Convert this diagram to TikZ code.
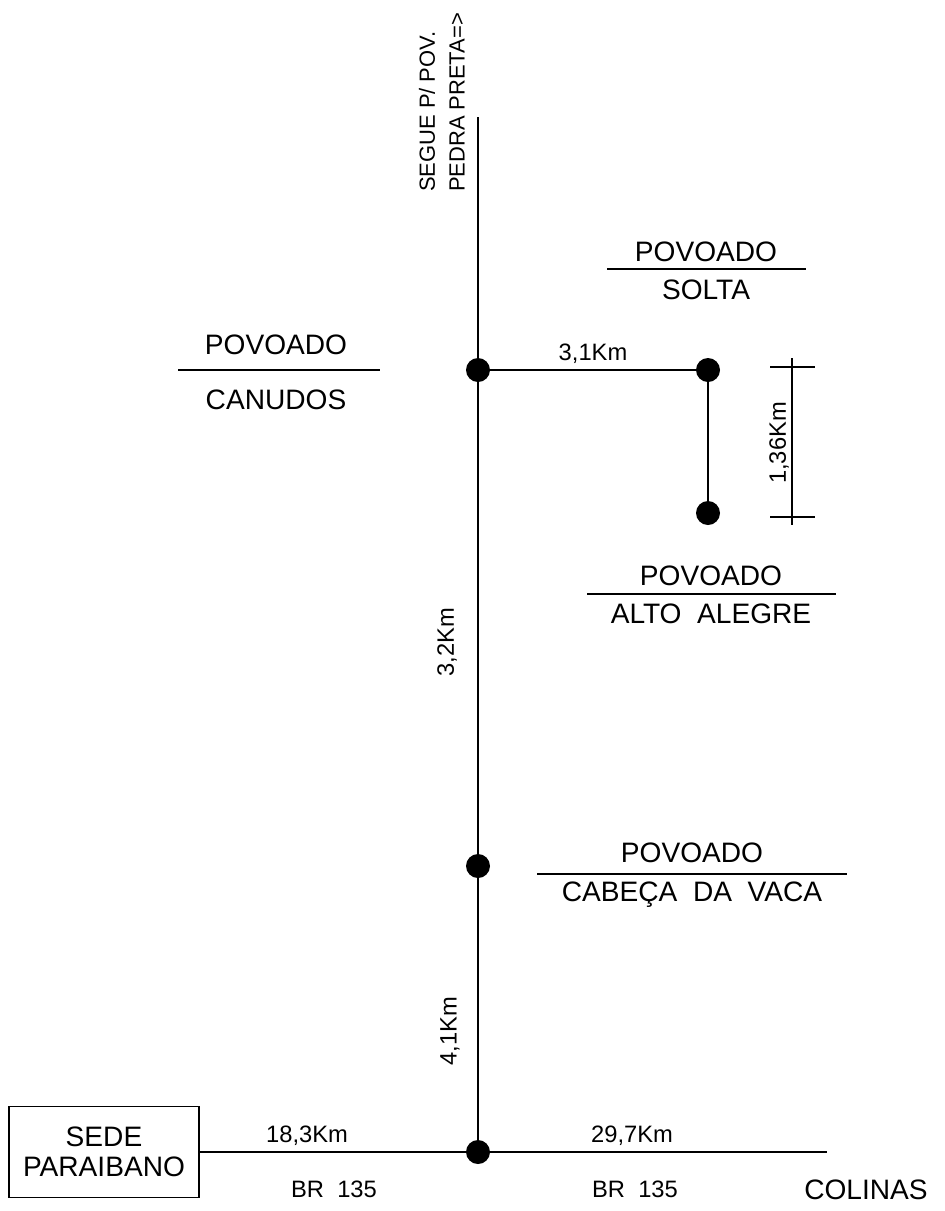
\documentclass[tikz,border=0pt]{standalone}
\usepackage{fontspec}
\setmainfont{Liberation Sans}
\usetikzlibrary{positioning}

\begin{document}
\begin{tikzpicture}[
    x=0.02cm, y=-0.02cm,
    font=\fontsize{13.5}{17}\selectfont,
    road/.style={line width=1pt},
    thin line/.style={line width=0.7pt},
    dot/.style={circle, fill, inner sep=0pt, minimum size=0.48cm},
    place/.style={font=\fontsize{16}{19}\selectfont, inner sep=1pt},
    dist/.style={inner sep=1pt},
    note/.style={font=\fontsize{12.5}{15}\selectfont, inner sep=1pt, rotate=90, anchor=west}
]
\useasboundingbox (0,0) rectangle (944,1211);
% points on the road
\node[dot] (canudos) at (478,370) {};
\node[dot] (solta) at (708,370) {};
\node[dot] (alto) at (708,513) {};
\node[dot] (vaca) at (478,866) {};
\node[dot] (cruz) at (478,1152) {};
\coordinate (topo) at (478,117);
\coordinate (fim) at (827,1152);
\node[draw, thin line, place, minimum width=3.8cm, minimum height=1.82cm, align=center] (sede) at (104,1152) {SEDE\\[-2pt]PARAIBANO};
% roads
\draw[road] (topo) -- (canudos) -- (vaca) -- (cruz);
\draw[road] (canudos) -- node[dist, above=2pt] {3,1Km} (solta);
\draw[road] (solta) -- (alto);
\draw[road] (sede) -- (cruz) -- (fim);
% distances
\node[dist, rotate=90] (d32) at (447,642) {3,2Km};
\node[dist, rotate=90] (d41) at (450,1031) {4,1Km};
\node[dist] (d183) at (307,1136) {18,3Km};
\node[dist] (d297) at (632,1136) {29,7Km};
\node[dist] (br1) at (334,1189) {BR\ \ 135};
\node[dist] (br2) at (635,1189) {BR\ \ 135};
\node[place] (colinas) at (866,1190) {COLINAS};
\node[note] (segue) at (427,194) {SEGUE\ P/\ POV.};
\node[note] (pedra) at (457,194) {PEDRA\ PRETA=>};
% dimension 1,36Km
\draw[thin line] (792,358) -- (792,525);
\draw[thin line] (770,367) -- (815,367);
\draw[thin line] (770,517) -- (815,517);
\node[dist, rotate=90] (d136) at (779,443) {1,36Km};
% povoados
\draw[thin line] (178,370) -- (380,370);
\node[place] (pcan) at (276,345) {POVOADO};
\node[place] (ncan) at (276,400) {CANUDOS};
\draw[thin line] (607,269) -- (806,269);
\node[place] (psol) at (706,252) {POVOADO};
\node[place] (nsol) at (706,290) {SOLTA};
\draw[thin line] (587,594) -- (836,594);
\node[place] (palt) at (711,576) {POVOADO};
\node[place] (nalt) at (711,614) {ALTO\ \ ALEGRE};
\draw[thin line] (537,874) -- (847,874);
\node[place] (pvac) at (692,853) {POVOADO};
\node[place] (nvac) at (692,895) {CABEÇA\ \ DA\ \ VACA};
\end{tikzpicture}
\end{document}
